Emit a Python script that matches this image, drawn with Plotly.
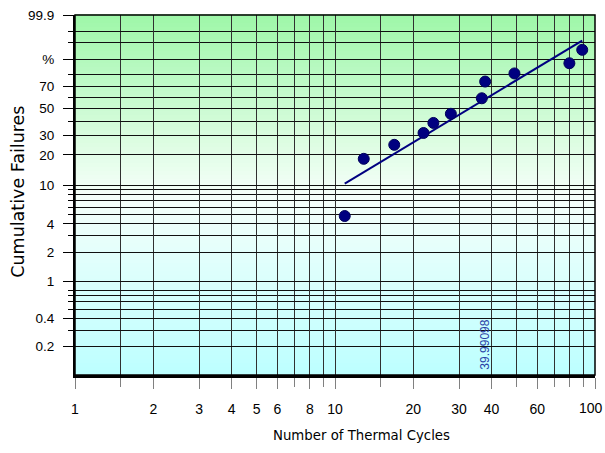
import math
import plotly.graph_objects as go

# ---------------- data ----------------
cycles = [10.9, 12.9, 16.9, 21.9, 23.9, 27.9, 36.7, 37.8, 49.0, 79.7, 89.3]
failures_pct = [4.84, 18.3, 24.8, 31.7, 38.6, 45.7, 59.1, 74.0, 80.7, 87.9, 94.7]

fit_cycles = [10.9, 89.3]
fit_pct = [10.4, 97.5]
eta = 39.99098

y_major_vals = [99.9, 90, 70, 50, 30, 20, 10, 4, 2, 1, 0.4, 0.2]
y_major_text = ["99.9", "%", "70", "50", "30", "20", "10", "4", "2", "1", "0.4", "0.2"]
y_minor_vals = [99, 97, 80, 60, 40, 9, 8, 7, 6, 5, 3, 0.8, 0.7, 0.6, 0.5, 0.3]
y_limits = [0.1, 99.9]

x_major_vals = [1, 2, 3, 4, 5, 6, 8, 10, 20, 30, 40, 60, 100]
x_major_text = ["1", "2", "3", "4", "5", "6", "8", "10", "20", "30", "40", "60", "100"]
x_minor_vals = [1.5, 7, 9, 15, 50, 70, 80, 90]


def weib(p):
    f = p / 100.0
    return math.log(-math.log(1.0 - f))


FONT = "Liberation Sans, Arial, sans-serif"
TITLE_FONT = "DejaVu Sans, Liberation Sans, sans-serif"
NAVY = "#000080"

fig = go.Figure()

fig.add_trace(go.Scatter(
    x=fit_cycles, y=[weib(p) for p in fit_pct], mode="lines",
    line=dict(color=NAVY, width=2), hoverinfo="skip", showlegend=False))

fig.add_trace(go.Scatter(
    x=cycles, y=[weib(p) for p in failures_pct], mode="markers",
    marker=dict(color=NAVY, size=11, line=dict(color="#00005a", width=1)),
    hoverinfo="skip", showlegend=False))

# background gradient (green -> white -> cyan)
stops = [(0.0, (188, 255, 255)), (0.50, (246, 255, 250)), (1.0, (158, 247, 168))]


def col_at(t):
    for (t0, c0), (t1, c1) in zip(stops[:-1], stops[1:]):
        if t0 <= t <= t1:
            u = (t - t0) / (t1 - t0)
            return "rgb(%d,%d,%d)" % tuple(round(a + (b - a) * u) for a, b in zip(c0, c1))
    return "rgb(%d,%d,%d)" % stops[-1][1]


shapes = []
N = 90
for i in range(N):
    y0 = i / N
    y1 = (i + 1) / N
    shapes.append(dict(type="rect", xref="paper", yref="paper", x0=0, x1=1,
                       y0=y0, y1=y1 + 0.002, layer="below",
                       fillcolor=col_at((y0 + y1) / 2), line=dict(width=0)))
# frame top/right
shapes.append(dict(type="rect", xref="paper", yref="paper", x0=0, x1=1, y0=0, y1=1,
                   layer="above", line=dict(color="#000000", width=1.5)))

# the last x tick label sits flush with the right edge of the picture
x_tick_text_shown = [t if v != x_major_vals[-1] else "" for v, t in zip(x_major_vals, x_major_text)]

fig.update_layout(
    width=605, height=453,
    margin=dict(l=75, r=10, t=15, b=78, autoexpand=False),
    paper_bgcolor="white", plot_bgcolor="rgba(0,0,0,0)",
    font=dict(family=FONT, color="#000000"),
    shapes=shapes,
    hovermode=False,
    annotations=[
        dict(text=f"{eta:.5f}", x=math.log10(eta), xref="x", y=0.083, yref="paper",
             xanchor="center", yanchor="middle", textangle=-90, showarrow=False,
             xshift=-6, font=dict(family=FONT, size=12, color="#2a3fa8")),
        dict(text="Cumulative Failures", x=-0.109, xref="paper", y=0.51, yref="paper",
             xanchor="center", yanchor="middle", textangle=-90, showarrow=False,
             font=dict(family=TITLE_FONT, size=17.5, color="#000000")),
        dict(text="Number of Thermal Cycles", x=0.551, xref="paper",
             y=-0.168, yref="paper", xanchor="center", yanchor="middle",
             showarrow=False, font=dict(family=TITLE_FONT, size=13.3, color="#000000")),
        dict(text=x_major_text[-1], x=math.log10(x_major_vals[-1]), xref="x",
             y=-0.0917, yref="paper", xanchor="right", yanchor="middle", xshift=10,
             showarrow=False, font=dict(family=FONT, size=14, color="#000000")),
    ],
)

fig.update_xaxes(
    type="log", range=[0, 2], automargin=False,
    tickmode="array", tickvals=x_major_vals, ticktext=x_tick_text_shown,
    ticks="outside", ticklen=11, tickcolor="#808080", tickwidth=1,
    ticklabelstandoff=8, ticklabeloverflow="allow",
    tickfont=dict(size=14, family=FONT, color="#000000"),
    showgrid=True, gridcolor="#303030", gridwidth=1,
    minor=dict(tickmode="array", tickvals=x_minor_vals, ticks="outside",
               ticklen=9, tickcolor="#808080", showgrid=True,
               gridcolor="#303030", gridwidth=1),
    showline=True, linecolor="#000000", linewidth=3,
    zeroline=False,
)

fig.update_yaxes(
    range=[weib(y_limits[0]), weib(y_limits[1])], automargin=False,
    tickmode="array", tickvals=[weib(v) for v in y_major_vals], ticktext=y_major_text,
    ticks="outside", ticklen=10, tickcolor="#000000", tickwidth=1,
    ticklabelstandoff=6, ticklabeloverflow="allow",
    tickfont=dict(size=13.5, family=FONT, color="#000000"),
    showgrid=True, gridcolor="#101010", gridwidth=1,
    minor=dict(tickmode="array", tickvals=[weib(v) for v in y_minor_vals],
               ticks="outside", ticklen=5, tickcolor="#000000", showgrid=True,
               gridcolor="#101010", gridwidth=1),
    showline=True, linecolor="#000000", linewidth=2,
    zeroline=False,
)

fig.write_html("out.html", config={"displayModeBar": False},
               post_script="document.body.style.margin='0';document.body.style.padding='0';")
